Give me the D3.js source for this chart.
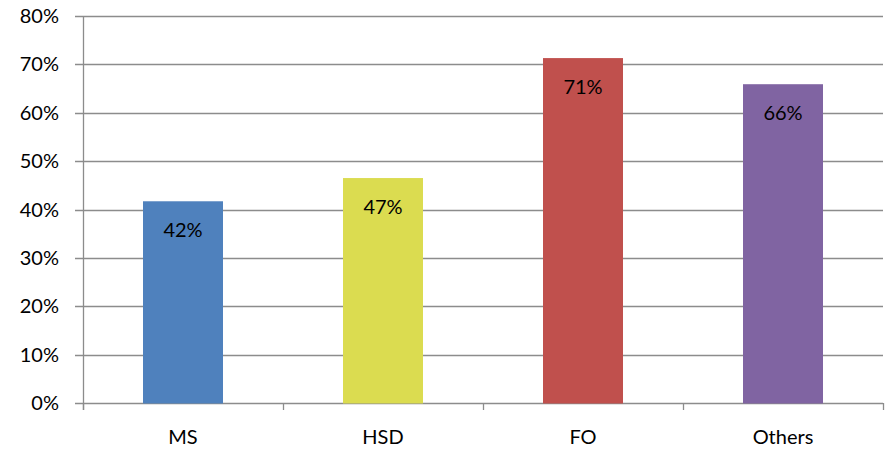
<!DOCTYPE html>
<html>
<head>
<meta charset="utf-8">
<script src="https://cdn.jsdelivr.net/npm/d3@7"></script>
<style>
  body { margin: 0; background: #fff; }
  text { font-family: Lato, "Open Sans", sans-serif; fill: #000; }
</style>
</head>
<body>
<svg width="885" height="451"></svg>
<script>
// data
var categories = ["MS", "HSD", "FO", "Others"];
var values = [0.417, 0.465, 0.713, 0.659];
var labels = ["42%", "47%", "71%", "66%"];
var colors = ["#4F81BD", "#DBDC50", "#C0504D", "#8064A2"];
var yTicks = [0, 0.1, 0.2, 0.3, 0.4, 0.5, 0.6, 0.7, 0.8];

var svg = d3.select("svg");
// plot area edges (window.top is reserved, so pTop etc.)
var pLeft = 83, pRight = 883, pTop = 16, pBottom = 403;

var x = d3.scaleBand().domain(categories).range([pLeft, pRight]).paddingInner(0.6).paddingOuter(0.3);
var y = d3.scaleLinear().domain([0, 0.8]).range([pBottom, pTop]);

// gridlines + y ticks
svg.append("g").selectAll("line").data(yTicks).enter().append("line")
  .attr("x1", pLeft - 8).attr("x2", pRight)
  .attr("y1", d => Math.round(y(d)) + 0.5).attr("y2", d => Math.round(y(d)) + 0.5)
  .attr("stroke", "#8c8c8c").attr("stroke-width", 1.3);

svg.append("g").selectAll("text").data(yTicks).enter().append("text")
  .attr("x", 59).attr("y", d => y(d)).attr("dy", "0.35em")
  .attr("text-anchor", "end").style("font-size", "20px")
  .text(d => Math.round(d * 100) + "%");

// y axis line
svg.append("line").attr("x1", pLeft + 0.5).attr("x2", pLeft + 0.5)
  .attr("y1", pTop).attr("y2", pBottom + 7).attr("stroke", "#8c8c8c").attr("stroke-width", 1.3);

// x ticks at category boundaries
var step = x.step();
var bounds = d3.range(categories.length + 1).map(i => pLeft + i * step);
svg.append("g").selectAll("line").data(bounds).enter().append("line")
  .attr("x1", d => Math.round(d) + 0.5).attr("x2", d => Math.round(d) + 0.5)
  .attr("y1", pBottom).attr("y2", pBottom + 7)
  .attr("stroke", "#8c8c8c").attr("stroke-width", 1.3);

// bars
svg.append("g").selectAll("rect").data(values).enter().append("rect")
  .attr("x", (d, i) => x(categories[i]))
  .attr("width", x.bandwidth())
  .attr("y", d => y(d))
  .attr("height", d => pBottom + 0.5 - y(d))
  .attr("fill", (d, i) => colors[i]);

// value labels
svg.append("g").selectAll("text").data(values).enter().append("text")
  .attr("x", (d, i) => x(categories[i]) + x.bandwidth() / 2)
  .attr("y", d => y(d) + 29).attr("dy", "0.35em")
  .attr("text-anchor", "middle").style("font-size", "20px")
  .text((d, i) => labels[i]);

// category labels
svg.append("g").selectAll("text").data(categories).enter().append("text")
  .attr("x", d => x(d) + x.bandwidth() / 2)
  .attr("y", 437).attr("dy", "0.35em")
  .attr("text-anchor", "middle").style("font-size", "20px")
  .text(d => d);
</script>
</body>
</html>
